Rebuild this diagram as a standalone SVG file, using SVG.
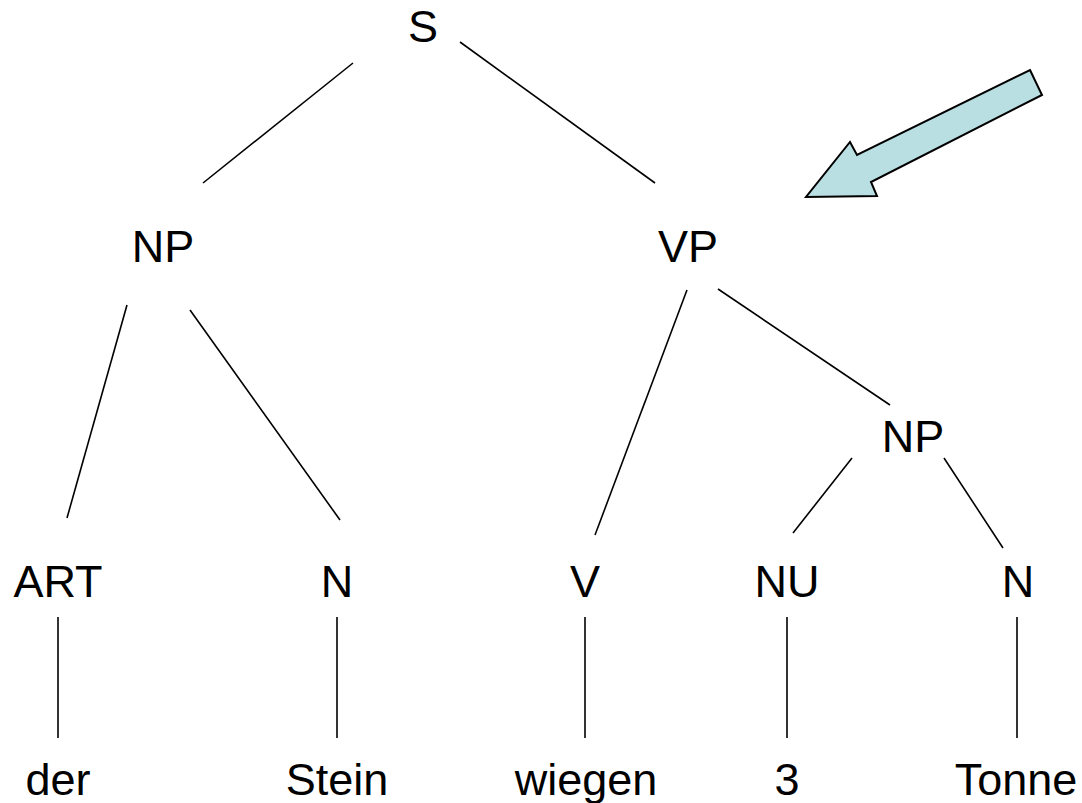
<svg xmlns="http://www.w3.org/2000/svg" width="1082" height="803" viewBox="0 0 1082 803">
<style>
text{font-family:"Liberation Sans",Arial,sans-serif;font-size:45px;fill:#000;text-anchor:middle}
.e{stroke:#000;stroke-width:1.6;fill:none}
</style>
<rect width="1082" height="803" fill="#fff"/>
<g id="connectors">
<line class="e" x1="353" y1="63" x2="203" y2="183"/>
<line class="e" x1="460" y1="42" x2="655" y2="183"/>
<line class="e" x1="127" y1="305" x2="67" y2="518"/>
<line class="e" x1="190" y1="310" x2="340" y2="520"/>
<line class="e" x1="687" y1="290" x2="595" y2="535"/>
<line class="e" x1="718" y1="289" x2="890" y2="405"/>
<line class="e" x1="852" y1="458" x2="793" y2="533"/>
<line class="e" x1="944" y1="458" x2="1003" y2="548"/>
<line class="e" x1="58" y1="617" x2="58" y2="738"/>
<line class="e" x1="337" y1="617" x2="337" y2="738"/>
<line class="e" x1="585" y1="617" x2="585" y2="738"/>
<line class="e" x1="787" y1="617" x2="787" y2="738"/>
<line class="e" x1="1017" y1="617" x2="1017" y2="738"/>
</g>
<g id="arrow">
<polygon points="1030,70 1042,95 871,182 877,196 806,197 850,142 857,155" fill="#b9dfe3" stroke="#000" stroke-width="2" stroke-linejoin="miter"/>
</g>
<g id="S"><text x="423" y="42">S</text></g>
<g id="NP1"><text x="163" y="262">NP</text></g>
<g id="VP"><text x="688" y="262">VP</text></g>
<g id="NP2"><text x="913" y="452">NP</text></g>
<g id="ART"><text x="58" y="597">ART</text></g>
<g id="N1"><text x="337" y="597">N</text></g>
<g id="V"><text x="585" y="597">V</text></g>
<g id="NU"><text x="787" y="597">NU</text></g>
<g id="N2"><text x="1018" y="597">N</text></g>
<g id="der"><text x="58" y="795">der</text></g>
<g id="Stein"><text x="337" y="795">Stein</text></g>
<g id="wiegen"><text x="586" y="795">wiegen</text></g>
<g id="three"><text x="787" y="795">3</text></g>
<g id="Tonne"><text x="1016" y="795">Tonne</text></g>
</svg>
